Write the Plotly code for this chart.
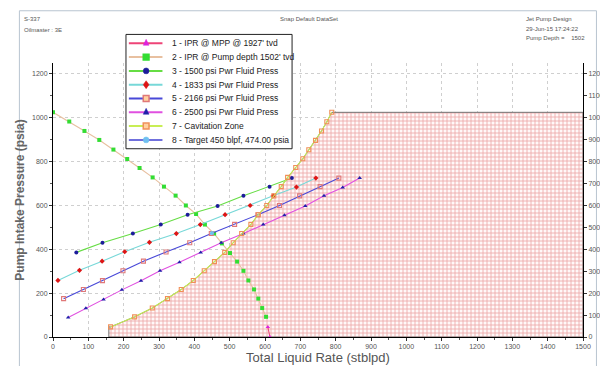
import plotly.graph_objects as go

# ---------------- data ----------------
ipr_mpp_x = [608, 614]
ipr_mpp_y = [46, 0]

ipr_pump_x = [0, 46, 89, 131, 171, 210, 245, 282, 314, 347, 376, 405, 430, 456, 478, 501, 521, 539, 553, 569, 581, 592, 603]
ipr_pump_y = [1025, 983, 940, 899, 855, 812, 771, 728, 686, 645, 600, 561, 513, 472, 427, 383, 344, 302, 258, 217, 175, 132, 92]

pwr1500_x = [66, 140, 226, 305, 381, 466, 539, 613, 676]
pwr1500_y = [386, 430, 472, 513, 558, 598, 644, 686, 725]

pwr1833_x = [14, 75, 139, 203, 273, 349, 417, 487, 558, 623, 689, 744]
pwr1833_y = [258, 304, 346, 389, 432, 472, 513, 558, 600, 644, 684, 725]

pwr2166_x = [30, 86, 140, 198, 256, 320, 387, 448, 514, 580, 641, 698, 756, 809]
pwr2166_y = [175, 217, 257, 302, 346, 388, 430, 472, 514, 558, 600, 644, 686, 725]

pwr2500_x = [43, 93, 143, 195, 249, 303, 358, 418, 476, 539, 595, 655, 714, 767, 820, 868]
pwr2500_y = [89, 131, 171, 215, 257, 302, 341, 386, 430, 472, 513, 555, 598, 644, 682, 725]

cav_x = [163, 231, 281, 324, 363, 397, 428, 457, 486, 510, 534, 560, 581, 605, 625, 646, 664, 687, 707, 724, 743, 760, 775, 789]
cav_y = [46, 92, 132, 175, 217, 258, 302, 344, 386, 430, 472, 514, 558, 600, 644, 686, 728, 773, 813, 854, 897, 940, 982, 1025]
cav_zone_end_x = 1500

target_x = [450]
target_y = [474]

legend_labels = [
    "1 - IPR @ MPP @ 1927' tvd",
    "2 - IPR @ Pump depth 1502' tvd",
    "3 - 1500 psi Pwr Fluid Press",
    "4 - 1833 psi Pwr Fluid Press",
    "5 - 2166 psi Pwr Fluid Press",
    "6 - 2500 psi Pwr Fluid Press",
    "7 - Cavitation Zone",
    "8 - Target 450 blpf, 474.00 psia",
]

x_ticks = list(range(0, 1501, 100))
y_left_ticks = list(range(0, 1201, 200))
y_right_ticks = list(range(0, 1201, 100))

# ---------------- styles ----------------
line_cols = ["#ee4477", "#e8c0a0", "#66dd44", "#77d8d8", "#4848d8", "#e050e0", "#c8ee55", "#7070dd"]
mk_cols = ["#dd22dd", "#33dd33", "#1c1c9a", "#dd1515", "#e07878", "#2020aa", "#f09058", "#70c0f0"]
mk_syms = ["triangle-up", "square", "circle", "diamond", "square-open", "triangle-up", "square-open", "circle"]

W, H = 608, 366
PL, PR, PT, PB = 39, 591, 55, 333


def pxx(px):
    return (px - PL) / (PR - PL)


def pxy(py):
    return (PB - py) / (PB - PT)


fig = go.Figure()

# cavitation hatched zone
fz_x = [cav_x[0] - 5, cav_x[0] - 5] + cav_x + [cav_zone_end_x, cav_zone_end_x, cav_x[0] - 5]
fz_y = [0, cav_y[0]] + cav_y + [cav_y[-1], 0, 0]
fig.add_trace(go.Scatter(
    x=fz_x, y=fz_y, mode="lines", fill="toself",
    line=dict(color="#707070", width=1),
    fillcolor="rgba(255,255,255,0)",
    fillpattern=dict(shape="+", fgcolor="#dd6060", bgcolor="#fff8f8", size=4, solidity=0.4),
    showlegend=False, hoverinfo="skip"))

series = [
    (ipr_pump_x, ipr_pump_y, 1),
    (pwr1500_x, pwr1500_y, 2),
    (pwr1833_x, pwr1833_y, 3),
    (pwr2166_x, pwr2166_y, 4),
    (pwr2500_x, pwr2500_y, 5),
    (cav_x, cav_y, 6),
    (ipr_mpp_x, ipr_mpp_y, 0),
    (target_x, target_y, 7),
]
for xs, ys, i in series:
    open_sym = mk_syms[i].endswith("open")
    fig.add_trace(go.Scatter(
        x=xs, y=ys, mode="lines+markers", name=legend_labels[i],
        line=dict(color=line_cols[i], width=1.1),
        marker=dict(symbol=mk_syms[i], size=4, color=mk_cols[i],
                    line=dict(width=1.1 if open_sym else 0, color=mk_cols[i])),
        showlegend=False))

# dummy trace for right axis
fig.add_trace(go.Scatter(x=[None], y=[None], yaxis="y2", showlegend=False, hoverinfo="skip"))

tickfont = dict(family="Liberation Sans, Arial, sans-serif", size=7, color="#555")

fig.update_layout(
    width=W, height=H,
    margin=dict(l=PL, r=W - PR, t=PT, b=H - PB),
    paper_bgcolor="white", plot_bgcolor="white",
    showlegend=False,
    xaxis=dict(range=[0, 1500], tickvals=x_ticks, ticktext=[str(v) for v in x_ticks],
               showline=True, linecolor="black", linewidth=1, ticks="outside", ticklen=3,
               tickcolor="#333", tickfont=tickfont,
               minor=dict(dtick=50, ticks="outside", ticklen=2, tickcolor="#555", showgrid=False),
               showgrid=True, gridcolor="#cfcfcf", griddash="dot", gridwidth=1, zeroline=False,
               title=dict(text="Total Liquid Rate (stblpd)", standoff=2,
                          font=dict(family="Liberation Sans, Arial, sans-serif", size=13, color="#555"))),
    yaxis=dict(range=[0, 1250], tickvals=y_left_ticks, ticktext=[str(v) for v in y_left_ticks],
               showline=True, linecolor="black", linewidth=1, ticks="outside", ticklen=3,
               tickcolor="#333", tickfont=tickfont,
               minor=dict(dtick=100, ticks="outside", ticklen=2, tickcolor="#555", showgrid=False),
               showgrid=True, gridcolor="#cfcfcf", griddash="dot", gridwidth=1, zeroline=False,
               title=dict(text="<b>Pump Intake Pressure (psia)</b>", standoff=4,
                          font=dict(family="Liberation Sans, Arial, sans-serif", size=12, color="#666"))),
    yaxis2=dict(range=[0, 1250], overlaying="y", side="right", anchor="x",
                tickvals=y_right_ticks, ticktext=[str(v) for v in y_right_ticks],
                showline=True, linecolor="black", linewidth=1, ticks="outside", ticklen=3,
                tickcolor="#333", tickfont=tickfont, showgrid=False, zeroline=False),
)

# frame
shapes = [dict(type="rect", xref="paper", yref="paper", x0=pxx(4), x1=pxx(605), y0=pxy(363), y1=pxy(2),
               line=dict(color="#b8c4d0", width=1), fillcolor="rgba(0,0,0,0)", layer="below")]

# custom legend
LB_L, LB_R, LB_T, LB_B = 115, 288, 26, 142
shapes.append(dict(type="rect", xref="paper", yref="paper", x0=pxx(LB_L), x1=pxx(LB_R), y0=pxy(LB_B), y1=pxy(LB_T),
                   line=dict(color="#222", width=1), fillcolor="white"))
annotations = []
for k, lab in enumerate(legend_labels):
    cy = 35 + 14 * k
    shapes.append(dict(type="line", xref="paper", yref="paper", x0=pxx(118), x1=pxx(153), y0=pxy(cy), y1=pxy(cy),
                       line=dict(color=line_cols[k], width=2)))
    cx = 136
    s = 3
    sym = mk_syms[k]
    if sym.startswith("square"):
        op = sym.endswith("open")
        shapes.append(dict(type="rect", xref="paper", yref="paper", x0=pxx(cx - s), x1=pxx(cx + s),
                           y0=pxy(cy + s), y1=pxy(cy - s),
                           line=dict(color=mk_cols[k], width=1.5),
                           fillcolor="#ffd0a0" if op else mk_cols[k]))
    elif sym == "circle":
        shapes.append(dict(type="circle", xref="paper", yref="paper", x0=pxx(cx - s), x1=pxx(cx + s),
                           y0=pxy(cy + s), y1=pxy(cy - s), line=dict(color=mk_cols[k], width=0.5),
                           fillcolor=mk_cols[k]))
    elif sym == "diamond":
        path = "M {} {} L {} {} L {} {} L {} {} Z".format(pxx(cx), pxy(cy - s - 1), pxx(cx + s), pxy(cy),
                                                          pxx(cx), pxy(cy + s + 1), pxx(cx - s), pxy(cy))
        shapes.append(dict(type="path", xref="paper", yref="paper", path=path,
                           line=dict(color=mk_cols[k], width=0.5), fillcolor=mk_cols[k]))
    else:
        path = "M {} {} L {} {} L {} {} Z".format(pxx(cx), pxy(cy - s - 1), pxx(cx + s), pxy(cy + s - 1),
                                                  pxx(cx - s), pxy(cy + s - 1))
        shapes.append(dict(type="path", xref="paper", yref="paper", path=path,
                           line=dict(color=mk_cols[k], width=0.5), fillcolor=mk_cols[k]))
    annotations.append(dict(xref="paper", yref="paper", x=pxx(161), y=pxy(cy), xanchor="left", yanchor="middle",
                            text=lab, showarrow=False,
                            font=dict(family="Liberation Sans, Arial, sans-serif", size=8.5, color="#222")))

hfont = dict(family="Liberation Sans, Arial, sans-serif", size=6, color="#555")
header = [
    (7, 5, "left", "S-337"),
    (7, 16, "left", "Oilmaster : 3E"),
    (306, 5, "center", "Snap Default DataSet"),
    (530, 5, "left", "Jet Pump Design"),
    (530, 15, "left", "29-Jun-15 17:24:22"),
    (530, 25, "left", "Pump Depth =    1502"),
]
for hx, hy, anc, txt in header:
    annotations.append(dict(xref="paper", yref="paper", x=pxx(hx), y=pxy(hy), xanchor=anc, yanchor="top",
                            text=txt, showarrow=False, font=hfont))

fig.update_layout(shapes=shapes, annotations=annotations)
fig.write_html("out.html")
